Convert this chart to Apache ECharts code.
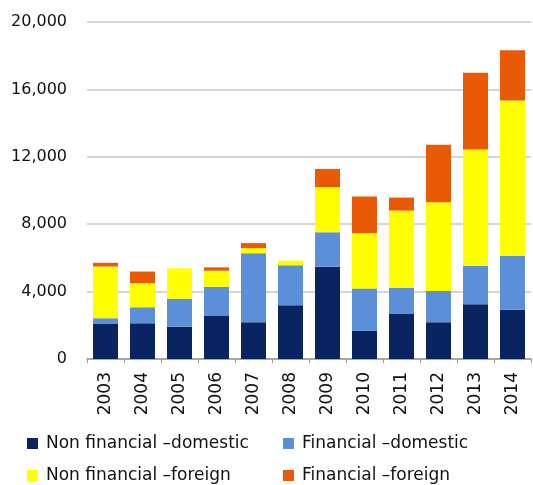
<!DOCTYPE html>
<html><head><meta charset="utf-8">
<script src="https://cdn.jsdelivr.net/npm/echarts@6/dist/echarts.min.js"></script>
<style>html,body{margin:0;padding:0;background:#fff}#c{width:533px;height:485px}</style>
</head><body><div id="c"></div>
<script>
const years = ['2003','2004','2005','2006','2007','2008','2009','2010','2011','2012','2013','2014'];
const nonFinDomestic = [2080, 2120, 1920, 2550, 2180, 3190, 5480, 1680, 2670, 2180, 3250, 2930];
const finDomestic    = [340, 950, 1660, 1740, 4100, 2370, 2040, 2500, 1560, 1860, 2280, 3190];
const nonFinForeign  = [3070, 1430, 1800, 950, 300, 280, 2680, 3290, 4580, 5270, 6900, 9220];
const finForeign     = [220, 690, 0, 200, 300, 0, 1080, 2180, 770, 3410, 4560, 2990];
const seriesNames = ['Non financial –domestic', 'Financial –domestic', 'Non financial –foreign', 'Financial –foreign'];
const colors = ['#0a2361', '#5b8fd8', '#ffff00', '#e85a05'];

const font = 'DejaVu Sans';
const chart = echarts.init(document.getElementById('c'));
const values = [nonFinDomestic, finDomestic, nonFinForeign, finForeign];
const legendPos = [[27, 435], [283, 435], [27, 467], [283, 467]];
chart.setOption({
  animation: false,
  color: colors,
  grid: {left: 87, right: 2, top: 22, bottom: 126},
  legend: seriesNames.map((n, i) => ({
    data: [n], left: legendPos[i][0], top: legendPos[i][1], padding: 0,
    icon: 'rect', itemWidth: 11, itemHeight: 11, itemGap: 6,
    textStyle: {fontFamily: font, fontSize: 17, color: '#111', padding: [4, 0, 0, 3]}
  })),
  xAxis: {
    type: 'category', data: years,
    axisLine: {lineStyle: {color: '#999', width: 1.5}},
    axisTick: {show: true, length: 4, lineStyle: {color: '#999'}},
    axisLabel: {rotate: 90, margin: 13, fontFamily: font, fontSize: 17, color: '#111'}
  },
  yAxis: {
    type: 'value', min: 0, max: 20000, interval: 4000,
    axisLine: {show: false}, axisTick: {show: false},
    splitLine: {lineStyle: {color: '#c8c8c8', width: 1.5}},
    axisLabel: {margin: 20, fontFamily: font, fontSize: 16, color: '#111',
      formatter: v => v.toLocaleString('en-US')}
  },
  series: seriesNames.map((n, i) => ({
    name: n, type: 'bar', stack: 'total', barWidth: 25,
    data: values[i]
  }))
});
</script></body></html>
